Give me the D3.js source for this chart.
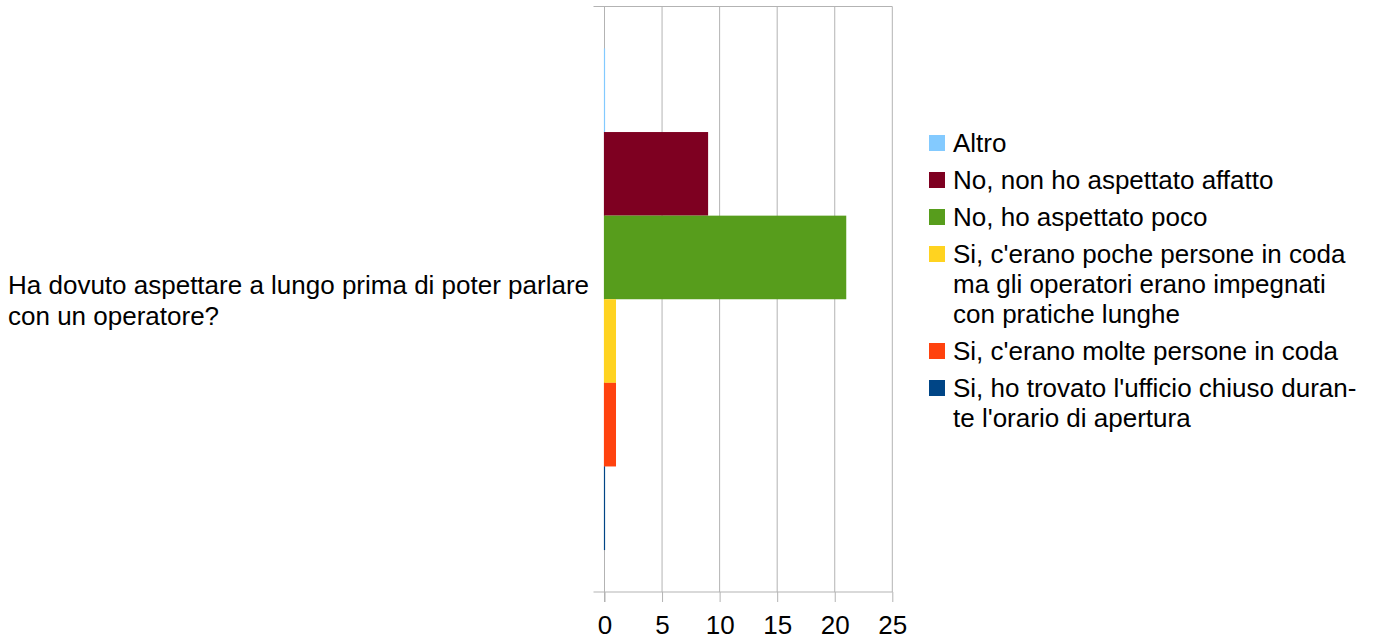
<!DOCTYPE html>
<html>
<head>
<meta charset="utf-8">
<script src="https://cdn.jsdelivr.net/npm/d3@7"></script>
<style>
  html, body { margin: 0; padding: 0; background: #fff; }
  svg { display: block; font-family: "Liberation Sans", Arial, sans-serif; }
</style>
</head>
<body>
<svg id="chart" width="1379" height="640"></svg>
<script>
// Question (category) shown on the vertical axis
const categoryLines = ["Ha dovuto aspettare a lungo prima di poter parlare", "con un operatore?"];
const category = "Q1";

// Answer series, top to bottom
const seriesNames = [
  "Altro",
  "No, non ho aspettato affatto",
  "No, ho aspettato poco",
  "Si, c'erano poche persone in coda ma gli operatori erano impegnati con pratiche lunghe",
  "Si, c'erano molte persone in coda",
  "Si, ho trovato l'ufficio chiuso durante l'orario di apertura"
];
const seriesValues = [0, 9, 21, 1, 1, 0];
const seriesColors = ["#83caff", "#7e0021", "#579d1c", "#ffd320", "#ff420e", "#004586"];

// Legend text as wrapped lines
const legendLines = [
  ["Altro"],
  ["No, non ho aspettato affatto"],
  ["No, ho aspettato poco"],
  ["Si, c'erano poche persone in coda", "ma gli operatori erano impegnati", "con pratiche lunghe"],
  ["Si, c'erano molte persone in coda"],
  ["Si, ho trovato l'ufficio chiuso duran-", "te l'orario di apertura"]
];

const xTicks = [0, 5, 10, 15, 20, 25];

const svg = d3.select("#chart");
const plot = { left: 604.5, right: 892.3, top: 6.5, bottom: 592 };
const fontSize = 26;
const gridColor = "#b3b3b3";

const x = d3.scaleLinear().domain([0, 25]).range([plot.left, plot.right]);
const y0 = d3.scaleBand().domain([category]).range([plot.top, plot.bottom])
  .paddingInner(0).paddingOuter(0.0836);
const y1 = d3.scaleBand().domain(seriesNames).range([0, y0.bandwidth()]).padding(0);

// Vertical grid lines
svg.append("g")
  .selectAll("line")
  .data(xTicks)
  .join("line")
  .attr("x1", d => x(d)).attr("x2", d => x(d))
  .attr("y1", plot.top).attr("y2", plot.bottom)
  .attr("stroke", gridColor).attr("stroke-width", 1);

// Top border of the category axis
svg.append("line")
  .attr("x1", plot.left - 11).attr("x2", plot.right)
  .attr("y1", plot.top).attr("y2", plot.top)
  .attr("stroke", gridColor);

// Bottom value axis
const xAxis = svg.append("g")
  .attr("transform", `translate(0,${plot.bottom})`)
  .call(d3.axisBottom(x).tickValues(xTicks).tickSize(10).tickPadding(14).tickSizeOuter(0));
xAxis.select(".domain").remove();
xAxis.selectAll(".tick line").attr("stroke", gridColor);
xAxis.selectAll(".tick text")
  .attr("fill", "#000")
  .style("font-size", fontSize + "px")
  .style("font-family", "'Liberation Sans', Arial, sans-serif");
svg.append("line")
  .attr("x1", plot.left - 11).attr("x2", plot.right)
  .attr("y1", plot.bottom).attr("y2", plot.bottom)
  .attr("stroke", gridColor);

// Category axis line with outward tick
svg.append("line")
  .attr("x1", plot.left).attr("x2", plot.left)
  .attr("y1", plot.top).attr("y2", plot.bottom + 10)
  .attr("stroke", gridColor);

// Bars (each with a base edge line so zero values still show)
const bars = svg.append("g").attr("transform", `translate(0,${y0(category)})`);
const barG = bars.selectAll("g")
  .data(seriesValues)
  .join("g");
barG.append("rect")
  .attr("x", x(0))
  .attr("y", (d, i) => y1(seriesNames[i]))
  .attr("width", d => x(d) - x(0))
  .attr("height", y1.bandwidth())
  .attr("fill", (d, i) => seriesColors[i]);
barG.append("line")
  .attr("x1", x(0)).attr("x2", x(0))
  .attr("y1", (d, i) => y1(seriesNames[i]))
  .attr("y2", (d, i) => y1(seriesNames[i]) + y1.bandwidth())
  .attr("stroke", (d, i) => seriesColors[i])
  .attr("stroke-width", 1.2);

// Category label
const catText = svg.append("text")
  .attr("x", 8)
  .attr("y", 293.5)
  .attr("fill", "#000")
  .style("font-size", fontSize + "px");
catText.selectAll("tspan")
  .data(categoryLines)
  .join("tspan")
  .attr("x", 8)
  .attr("dy", (d, i) => i === 0 ? 0 : 31)
  .text(d => d);

// Legend
const legend = svg.append("g");
let baseline = 152;
legendLines.forEach((lines, i) => {
  const g = legend.append("g");
  g.append("rect")
    .attr("x", 929).attr("y", baseline - 17)
    .attr("width", 16).attr("height", 16)
    .attr("fill", seriesColors[i]);
  const t = g.append("text")
    .attr("x", 953).attr("y", baseline)
    .attr("fill", "#000")
    .style("font-size", fontSize + "px");
  t.selectAll("tspan")
    .data(lines)
    .join("tspan")
    .attr("x", 953)
    .attr("dy", (d, j) => j === 0 ? 0 : 30)
    .text(d => d);
  baseline += 37 + (lines.length - 1) * 30;
});
</script>
</body>
</html>
